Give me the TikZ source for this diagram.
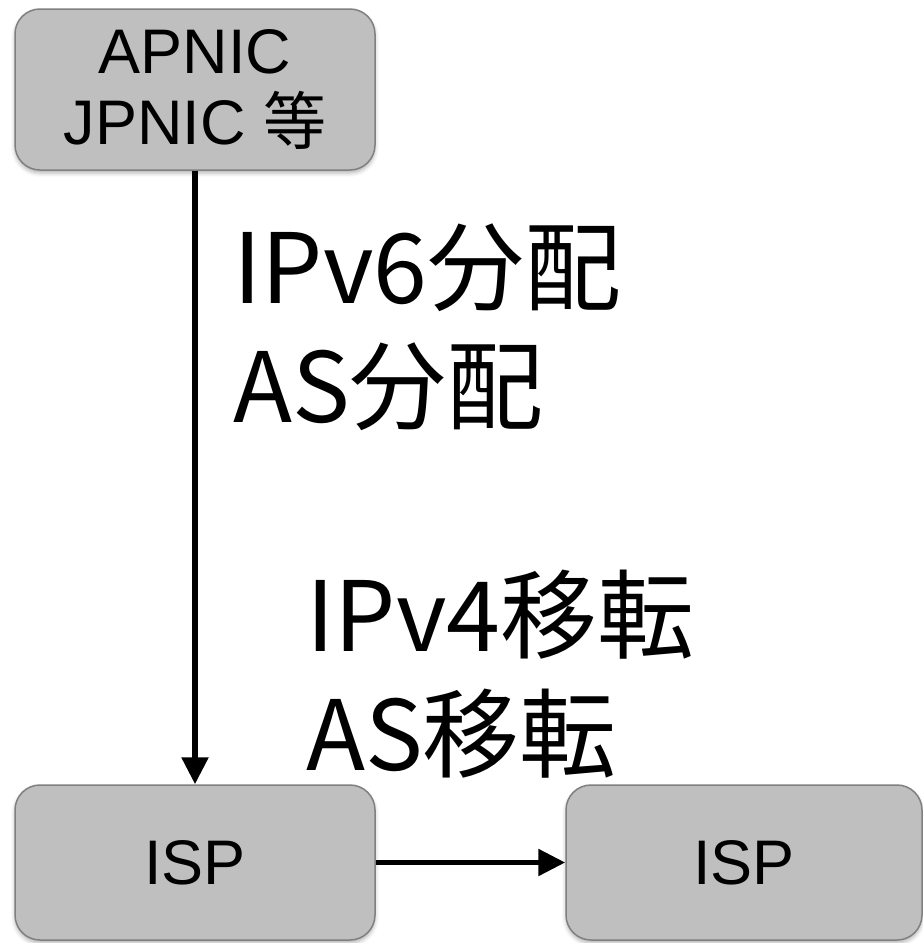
\documentclass[tikz,border=0pt]{standalone}
\usepackage{fontspec}
\setmainfont{Liberation Sans}
\newfontfamily\cjk{Noto Sans CJK JP}
\usetikzlibrary{arrows.meta,shadows.blur}

\definecolor{boxfill}{RGB}{191,191,191}
\definecolor{boxline}{RGB}{128,128,128}

\tikzset{
	orgbox/.style={draw=boxline, line width=1.5pt, fill=boxfill, rounded corners=25pt,
		align=center, font=\fontsize{63}{71}\selectfont,
		blur shadow={shadow xshift=0pt, shadow yshift=-3pt, shadow blur radius=4pt, shadow opacity=30}},
	flow/.style={line width=5.5pt, -{Triangle[length=27pt,width=26pt]}},
	biglabel/.style={anchor=base west, align=left, inner sep=0pt,
		font=\cjk\fontsize{97}{119}\selectfont}
}

\begin{document}
\begin{tikzpicture}[x=1pt, y=-1pt]
	\useasboundingbox (0,0) rectangle (923,943);
	
	% Draw boxes
	\node[orgbox, minimum width=360pt, minimum height=161pt] (registry) at (195,89.5) {APNIC\\JPNIC {\cjk 等}};
	\node[orgbox, minimum width=360pt, minimum height=155pt] (ispfrom) at (195,862.5) {ISP};
	\node[orgbox, minimum width=356pt, minimum height=155pt] (ispto) at (744,862.5) {ISP};
	
	% Draw arrows
	\draw[flow] (registry.south) -- (ispfrom.north);
	\draw[flow] (ispfrom.east) -- (ispto.west);
	
	% Draw text (base anchor sits on the last line)
	\node[biglabel] (alloc) at (233,422) {IPv6分配\\AS分配};
	\node[biglabel] (transfer) at (306,770) {IPv4移転\\AS移転};
\end{tikzpicture}
\end{document}
